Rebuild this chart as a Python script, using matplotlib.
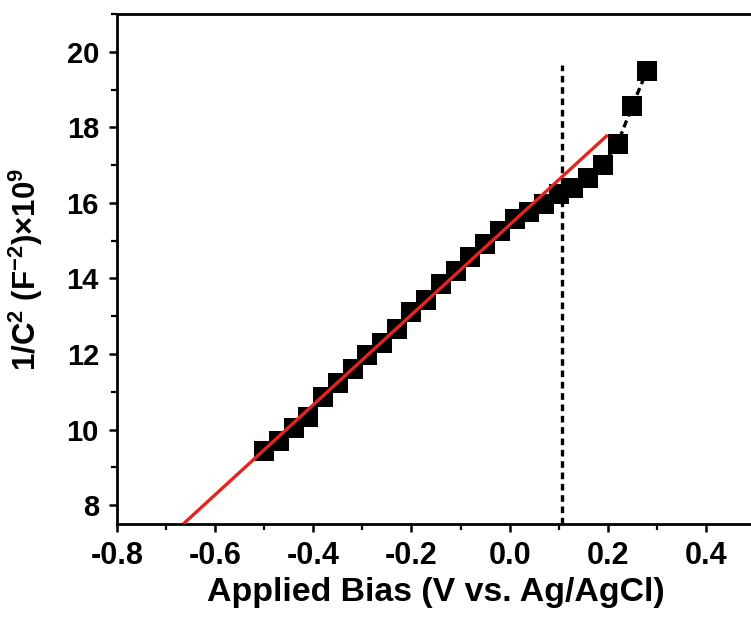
import matplotlib
matplotlib.use("Agg")
import matplotlib.pyplot as plt
from matplotlib.ticker import MultipleLocator

# Mott-Schottky data: applied bias (V vs. Ag/AgCl) and 1/C^2 (x10^9 F^-2)
bias = [-0.50, -0.47, -0.44, -0.41, -0.38, -0.35, -0.32, -0.29, -0.26,
        -0.23, -0.20, -0.17, -0.14, -0.11, -0.08, -0.05, -0.02, 0.01,
        0.04, 0.07, 0.10, 0.13, 0.16, 0.19, 0.22, 0.25, 0.28]
inv_c2 = [9.42, 9.71, 10.05, 10.34, 10.85, 11.22, 11.59, 11.98, 12.30,
          12.67, 13.10, 13.44, 13.86, 14.21, 14.58, 14.92, 15.26, 15.58,
          15.76, 15.98, 16.24, 16.40, 16.67, 17.01, 17.57, 18.57, 19.50]

# Linear fit of the depletion region
fit_bias = [-0.665, 0.20]
fit_inv_c2 = [7.5, 17.8]

# Marker for the flat-band potential
flat_band = 0.107
flat_band_span = [7.5, 19.65]

x_ticks = [-0.8, -0.6, -0.4, -0.2, 0.0, 0.2, 0.4]
y_ticks = [8, 10, 12, 14, 16, 18, 20]

plt.rcParams["font.family"] = ["Liberation Sans", "DejaVu Sans"]
plt.rcParams["font.weight"] = "bold"
plt.rcParams["mathtext.fontset"] = "custom"
plt.rcParams["mathtext.rm"] = "Liberation Sans:bold"
plt.rcParams["mathtext.it"] = "Liberation Sans:bold"
plt.rcParams["mathtext.bf"] = "Liberation Sans:bold"

fig = plt.figure(figsize=(7.51, 6.18), dpi=100)
ax = fig.add_axes([117 / 751, 94 / 618, 638 / 751, 510 / 618])

ax.plot(bias, inv_c2, color="black", lw=2.4, ls=(0, (2.2, 1.3)),
        marker="s", ms=14.5, mew=0, zorder=3)
ax.plot(fit_bias, fit_inv_c2, color="#e42420", lw=2.4, zorder=4,
        solid_capstyle="butt")
ax.vlines(flat_band, flat_band_span[0], flat_band_span[1], colors="black",
          linestyles=(0, (2.0, 1.4)), lw=2.4, zorder=2)

ax.set_xlim(-0.8, 0.5)
ax.set_ylim(7.5, 21)
ax.set_xticks(x_ticks)
ax.set_xticklabels([f"{v:.1f}" for v in x_ticks])
ax.set_yticks(y_ticks)
ax.xaxis.set_minor_locator(MultipleLocator(0.1))
ax.yaxis.set_minor_locator(MultipleLocator(1))

for s in ax.spines.values():
    s.set_linewidth(2.0)

ax.tick_params(which="major", direction="out", length=6, width=1.8,
               top=False, right=False)
ax.tick_params(which="minor", direction="out", length=4, width=1.6,
               top=False, right=False)
ax.tick_params(axis="x", which="major", labelsize=22, pad=6)
ax.tick_params(axis="y", which="major", labelsize=21, pad=7)

ax.set_xlabel("Applied Bias (V vs. Ag/AgCl)", fontsize=24.4, fontweight="bold")
ax.set_ylabel("1/C$^2$ (F$^{-2}$)\u00d710$^9$", fontsize=22.5, fontweight="bold")
ax.xaxis.set_label_coords(0.5, -0.104)
ax.yaxis.set_label_coords((45 - 117) / 638, 0.5)

fig.savefig("out.png", dpi=100, facecolor="white")
